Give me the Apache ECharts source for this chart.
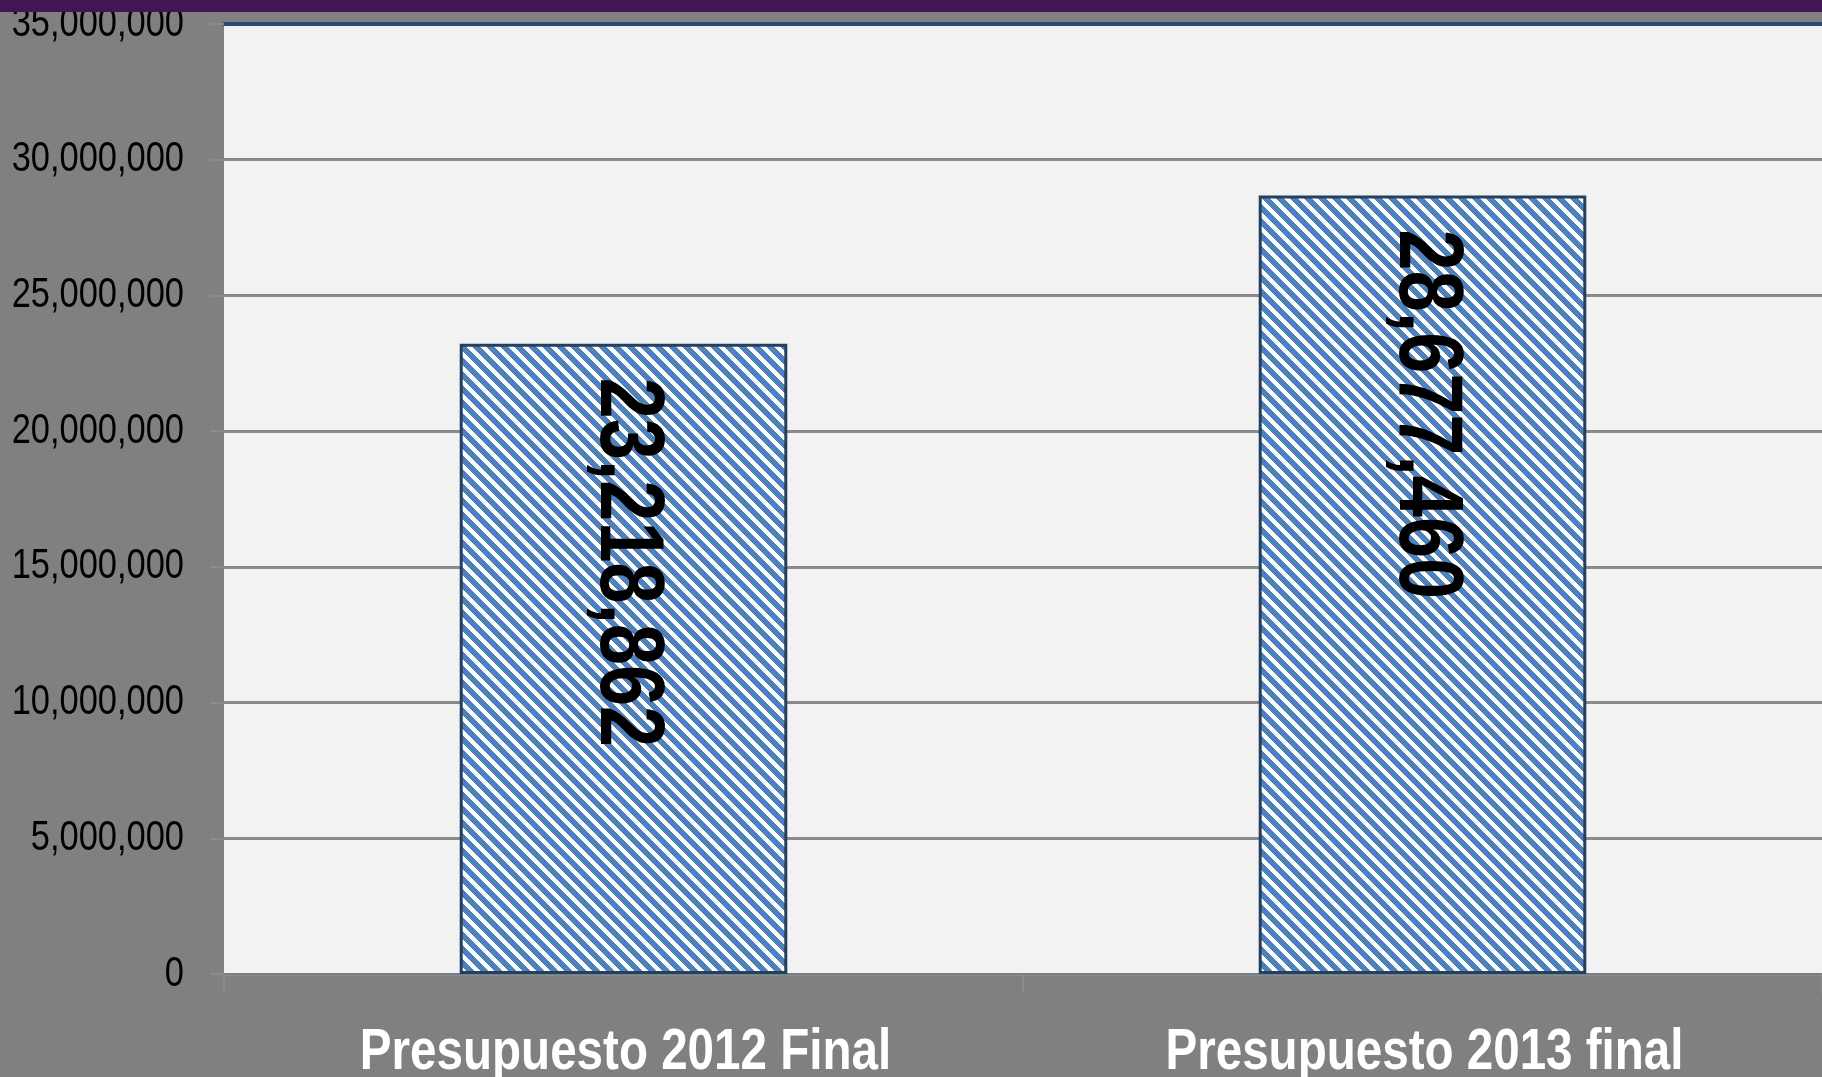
<!DOCTYPE html>
<html lang="es">
<head>
    <meta charset="UTF-8">
    <title>Presupuesto</title>
    <style>
        * {
            margin: 0px;
            padding: 0px;
        }

        body {
            background-color: #808080;
        }

        #main {
            width: 1822px;
            height: 1077px;
        }
    </style>
</head>
<body>
<div id="main"></div>

<script src="https://cdn.jsdelivr.net/npm/echarts@6/dist/echarts.min.js"></script>
<script type="text/javascript">
    // datos
    var categorias = ['Presupuesto 2012 Final', 'Presupuesto 2013 final'];
    var valores = [23218862, 28677460];
    var ejeTicks = [0, 5000000, 10000000, 15000000, 20000000, 25000000, 30000000, 35000000];

    // no hay fuente "narrow" instalada: se comprime el texto a lo ancho
    var fuente = '"Liberation Sans", Arial, sans-serif';
    var estrecho = 0.82;

    function conComas(v) {
        return String(v).replace(/\B(?=(\d{3})+(?!\d))/g, ',');
    }

    // trama de rayas diagonales (azul / blanco)
    function trama() {
        var p = 14;
        var c = document.createElement('canvas');
        c.width = p;
        c.height = p;
        var ctx = c.getContext('2d');
        ctx.fillStyle = '#ffffff';
        ctx.fillRect(0, 0, p, p);
        ctx.fillStyle = '#4f81bd';
        for (var y = 0; y < p; y++) {
            for (var x = 0; x < p; x++) {
                if ((((x - y) % p) + p) % p < 8) {
                    ctx.fillRect(x, y, 1, 1);
                }
            }
        }
        return c;
    }

    var myChart = echarts.init(document.getElementById('main'));
    myChart.setOption({
        backgroundColor: '#808080',
        animation: false,
        grid: {
            left: 224,
            right: 0,
            top: 24,
            bottom: 103,
            show: true,
            backgroundColor: '#f2f2f2',
            borderWidth: 0,
            outerBoundsMode: 'none'
        },
        graphic: [
            {
                type: 'rect',
                z: 100,
                shape: {x: 0, y: 0, width: 1822, height: 12},
                style: {fill: '#421556'}
            }
        ],
        xAxis: [
            {
                type: 'category',
                data: categorias,
                axisLine: {lineStyle: {color: '#77808a', width: 2}},
                axisTick: {show: true, length: 19, lineStyle: {color: '#8c8c8c', width: 2}},
                axisLabel: {show: false}
            },
            {
                type: 'category',
                position: 'top',
                data: categorias,
                axisLine: {lineStyle: {color: '#2a4a70', width: 4}},
                axisTick: {show: false},
                axisLabel: {show: false}
            }
        ],
        yAxis: {
            type: 'value',
            min: 0,
            max: 35000000,
            interval: 5000000,
            axisLine: {show: false},
            axisTick: {show: true, length: 14, lineStyle: {color: '#8c8c8c', width: 2}},
            splitLine: {lineStyle: {color: '#8a8a8a', width: 3}},
            axisLabel: {show: false}
        },
        series: [
            {
                type: 'bar',
                data: valores,
                barWidth: '41%',
                itemStyle: {
                    color: {image: trama(), repeat: 'repeat'},
                    borderColor: '#243f60',
                    borderWidth: 3
                }
            },
            {
                // valores dentro de las barras, girados
                type: 'custom',
                z: 10,
                data: valores.map(function (v, i) { return [i, v]; }),
                renderItem: function (params, api) {
                    var pt = api.coord([api.value(0), api.value(1)]);
                    return {
                        type: 'text',
                        x: pt[0] + 2,
                        y: pt[1] + 34,
                        rotation: -Math.PI / 2,
                        scaleX: estrecho,
                        style: {
                            text: conComas(api.value(1)),
                            fill: '#000000',
                            font: 'bold 90px ' + fuente,
                            align: 'left',
                            verticalAlign: 'middle'
                        }
                    };
                }
            },
            {
                // etiquetas de categoria
                type: 'custom',
                z: 10,
                data: categorias.map(function (c, i) { return [i, 0]; }),
                renderItem: function (params, api) {
                    var pt = api.coord([api.value(0), 0]);
                    return {
                        type: 'text',
                        x: pt[0] + 2,
                        y: pt[1] + 50,
                        scaleX: estrecho,
                        style: {
                            text: categorias[params.dataIndex],
                            fill: '#ffffff',
                            font: 'bold 58px ' + fuente,
                            align: 'center',
                            verticalAlign: 'top'
                        }
                    };
                }
            },
            {
                // etiquetas del eje de valores
                type: 'custom',
                z: 10,
                data: ejeTicks.map(function (t) { return [0, t]; }),
                renderItem: function (params, api) {
                    var pt = api.coord([0, api.value(1)]);
                    return {
                        type: 'text',
                        x: params.coordSys.x - 40,
                        y: pt[1],
                        scaleX: estrecho,
                        style: {
                            text: conComas(api.value(1)),
                            fill: '#000000',
                            font: '42px ' + fuente,
                            align: 'right',
                            verticalAlign: 'middle'
                        }
                    };
                }
            }
        ]
    });
</script>
</body>
</html>
